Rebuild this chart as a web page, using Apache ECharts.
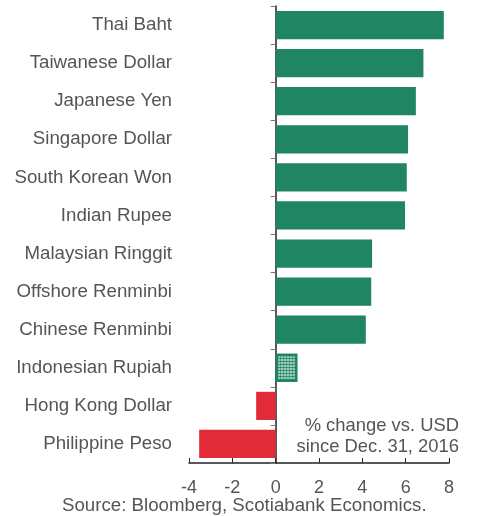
<!DOCTYPE html>
<html>
<head>
<meta charset="utf-8">
<script src="https://cdn.jsdelivr.net/npm/echarts@6/dist/echarts.min.js"></script>
<style>
  html, body { margin: 0; padding: 0; background: #fff; }
  #echarts { width: 477px; height: 516px; }
</style>
</head>
<body>
<div id="echarts"></div>
<script>
// 数据
var currencies = [
  "Thai Baht", "Taiwanese Dollar", "Japanese Yen", "Singapore Dollar",
  "South Korean Won", "Indian Rupee", "Malaysian Ringgit", "Offshore Renminbi",
  "Chinese Renminbi", "Indonesian Rupiah", "Hong Kong Dollar", "Philippine Peso"
];
var changes = [7.76, 6.82, 6.47, 6.11, 6.05, 5.97, 4.45, 4.41, 4.16, 1.0, -0.9, -3.53];
var xTicks = [-4, -2, 0, 2, 4, 6, 8];

var GREEN = "#1f8562";
var RED = "#e12b38";
var FONT = "Liberation Sans";

var chartDom = document.getElementById("echarts");
var myChart = echarts.init(chartDom);
var option;

var barData = changes.map(function (v, i) {
  if (currencies[i] === "Indonesian Rupiah") {
    // 空心+点状图案
    return {
      value: v,
      itemStyle: {
        color: "#fff",
        borderColor: GREEN,
        borderWidth: 2.5,
        decal: {
          symbol: "circle",
          symbolSize: 0.9,
          color: GREEN,
          backgroundColor: "#dff0e8",
          dashArrayX: [[3, 0]],
          dashArrayY: [3, 0]
        }
      }
    };
  }
  return { value: v, itemStyle: { color: v < 0 ? RED : GREEN } };
});

option = {
  animation: false,
  grid: { left: 189, right: 28, top: 6, bottom: 53 },
  xAxis: {
    type: "value",
    min: xTicks[0],
    max: xTicks[xTicks.length - 1],
    interval: 2,
    splitLine: { show: false },
    axisLine: { show: true, lineStyle: { color: "#222", width: 1.5 } },
    axisTick: { show: true, inside: true, length: 5, lineStyle: { color: "#222" } },
    axisLabel: {
      color: "#555",
      fontFamily: FONT,
      fontSize: 18,
      margin: 16
    }
  },
  yAxis: [
    {
      type: "category",
      data: currencies,
      inverse: true,
      position: "left",
      axisLine: { show: false, onZero: false },
      axisTick: { show: false },
      axisLabel: {
        color: "#555",
        fontFamily: FONT,
        fontSize: 18.7,
        margin: 17
      }
    },
    {
      type: "category",
      data: currencies,
      inverse: true,
      position: "left",
      axisLine: { show: true, onZero: true, lineStyle: { color: "#222", width: 1.5 } },
      axisTick: { show: true, length: 5, lineStyle: { color: "#777" } },
      axisLabel: { show: false }
    }
  ],
  series: [
    {
      type: "bar",
      yAxisIndex: 0,
      data: barData,
      barCategoryGap: "26%"
    }
  ],
  graphic: [
    {
      type: "text",
      right: 18,
      top: 415,
      style: {
        text: "% change vs. USD\nsince Dec. 31, 2016",
        textAlign: "right",
        fill: "#555",
        fontFamily: FONT,
        fontSize: 18.4,
        lineHeight: 21
      }
    },
    {
      type: "text",
      left: 62,
      top: 496,
      style: {
        text: "Source: Bloomberg, Scotiabank Economics.",
        fill: "#555",
        fontFamily: FONT,
        fontSize: 18.7
      }
    }
  ]
};

option && myChart.setOption(option);
</script>
</body>
</html>
